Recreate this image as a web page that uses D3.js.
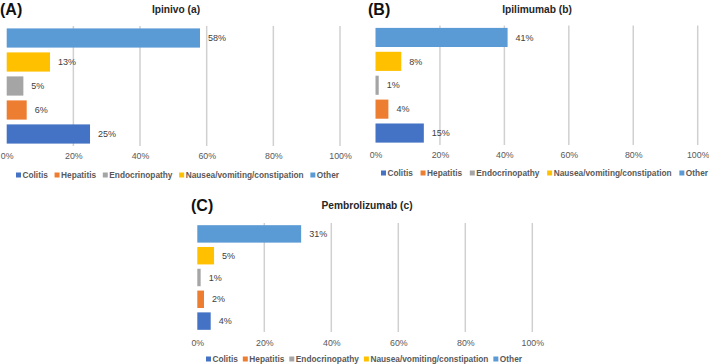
<!DOCTYPE html>
<html>
<head>
<meta charset="utf-8">
<script src="https://cdn.jsdelivr.net/npm/d3@7"></script>
<style>
  body { margin: 0; background: #fff; }
  svg { display: block; font-family: "Liberation Sans", Arial, sans-serif; }
</style>
</head>
<body>
<svg id="chart"></svg>
<script>
const categories = ["Colitis", "Hepatitis", "Endocrinopathy", "Nausea/vomiting/constipation", "Other"];
const colors = ["#4472C4", "#ED7D31", "#A5A5A5", "#FFC000", "#5B9BD5"];
const ipinivoValues = [25, 6, 5, 13, 58];
const ipilimumabValues = [15, 4, 1, 8, 41];
const pembrolizumabValues = [4, 2, 1, 5, 31];
const tickValues = [0, 20, 40, 60, 80, 100];

const width = 709;
const height = 364;

const svg = d3.select("#chart").attr("width", width).attr("height", height);

// layout of the three panels
const panels = [
  { letter: "(A)", title: "Ipinivo (a)", values: ipinivoValues,
    x: [6.7, 340], y: [26, 146], titleX: 176, titleY: 13, letterX: 0, letterY: 15,
    tickY: 160, legendY: 175, legendX: [16, 339] },
  { letter: "(B)", title: "Ipilimumab (b)", values: ipilimumabValues,
    x: [375.5, 697.7], y: [25.5, 145], titleX: 537, titleY: 13, letterX: 368, letterY: 15,
    tickY: 159, legendY: 173, legendX: [381, 708] },
  { letter: "(C)", title: "Pembrolizumab (c)", values: pembrolizumabValues,
    x: [197.3, 532.3], y: [223, 332], titleX: 367, titleY: 209, letterX: 191, letterY: 211,
    tickY: 347, legendY: 359, legendX: [206, 522] }
];

panels.forEach(p => {
  const g = svg.append("g");

  const x = d3.scaleLinear().domain([0, 100]).range(p.x);
  const y = d3.scaleBand()
    .domain(categories.slice().reverse())
    .range(p.y)
    .paddingInner(0.2)
    .paddingOuter(0.1);

  // gridlines
  g.append("g")
    .selectAll("line")
    .data(tickValues.slice(1))
    .join("line")
    .attr("x1", d => x(d)).attr("x2", d => x(d))
    .attr("y1", p.y[0]).attr("y2", p.y[1])
    .attr("stroke", "#d0d0d0")
    .attr("stroke-width", 1.5);

  // x axis labels
  const axis = d3.axisBottom(x)
    .tickValues(tickValues)
    .tickSize(0)
    .tickPadding(0)
    .tickFormat(d => d + "%");
  const ax = g.append("g")
    .attr("transform", `translate(0,${p.tickY - 7})`)
    .call(axis);
  ax.select(".domain").remove();
  ax.selectAll("text")
    .attr("fill", "#595959")
    .attr("font-size", 8.8)
    .attr("font-family", "Liberation Sans, Arial, sans-serif");

  // bars
  const rows = categories.map((c, i) => ({ cat: c, value: p.values[i], color: colors[i] }));
  g.append("g")
    .selectAll("rect")
    .data(rows)
    .join("rect")
    .attr("x", x(0))
    .attr("y", d => y(d.cat))
    .attr("width", d => x(d.value) - x(0))
    .attr("height", y.bandwidth())
    .attr("fill", d => d.color);

  g.append("g")
    .selectAll("text")
    .data(rows)
    .join("text")
    .attr("x", d => x(d.value) + 8)
    .attr("y", d => y(d.cat) + y.bandwidth() / 2)
    .attr("dy", "0.35em")
    .attr("font-size", 9)
    .attr("fill", "#404040")
    .text(d => d.value + "%");

  // titles
  g.append("text")
    .attr("x", p.titleX).attr("y", p.titleY)
    .attr("text-anchor", "middle")
    .attr("font-size", 10.2)
    .attr("font-weight", "bold")
    .attr("fill", "#262626")
    .text(p.title);

  g.append("text")
    .attr("x", p.letterX).attr("y", p.letterY)
    .attr("font-size", 16)
    .attr("font-weight", "bold")
    .attr("fill", "#111")
    .text(p.letter);

  // legend, spread to fill the measured width
  const lg = g.append("g");
  const items = lg.selectAll("g")
    .data(categories)
    .join("g");
  items.append("rect")
    .attr("width", 5).attr("height", 5)
    .attr("y", p.legendY - 2.5)
    .attr("fill", (d, i) => colors[i]);
  const labels = items.append("text")
    .attr("x", 6.5)
    .attr("y", p.legendY)
    .attr("dy", "0.35em")
    .attr("font-size", 8.3)
    .attr("font-weight", "bold")
    .attr("fill", "#595959")
    .text(d => d);
  const widths = [];
  labels.each(function () { widths.push(6.5 + this.getComputedTextLength()); });
  const gap = ((p.legendX[1] - p.legendX[0]) - d3.sum(widths)) / (categories.length - 1);
  let cx = p.legendX[0];
  items.attr("transform", (d, i) => {
    const t = `translate(${cx},0)`;
    cx += widths[i] + gap;
    return t;
  });
});
</script>
</body>
</html>
